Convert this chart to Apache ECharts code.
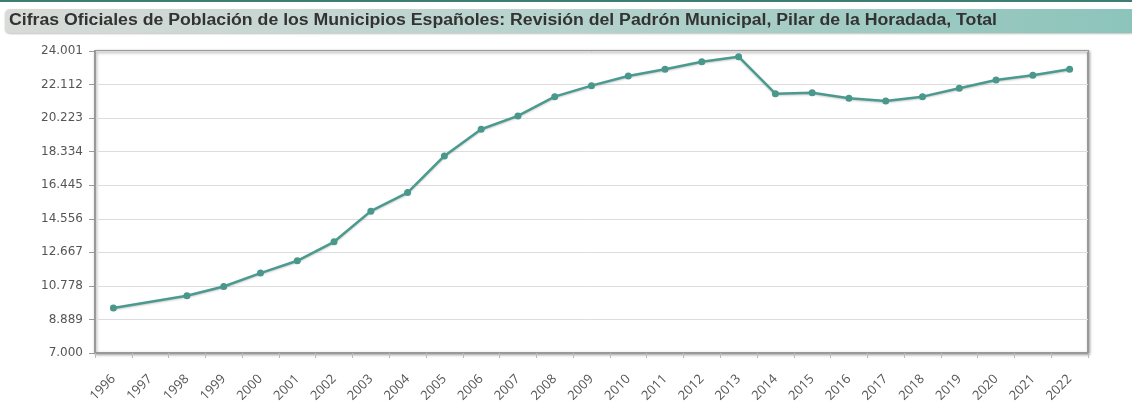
<!DOCTYPE html>
<html>
<head>
<meta charset="utf-8">
<script src="https://cdn.jsdelivr.net/npm/echarts@6/dist/echarts.min.js"></script>
<style>
html,body{margin:0;padding:0;background:#fff;}
#chart{width:1132px;height:408px;}
</style>
</head>
<body>
<div id="chart"></div>
<script>
var titleText = 'Cifras Oficiales de Población de los Municipios Españoles: Revisión del Padrón Municipal, Pilar de la Horadada, Total';
var years = ['1996','1997','1998','1999','2000','2001','2002','2003','2004','2005','2006','2007','2008','2009','2010','2011','2012','2013','2014','2015','2016','2017','2018','2019','2020','2021','2022'];
var population = [9531, null, 10222, 10746, 11499, 12191, 13260, 14986, 16032, 18096, 19598, 20346, 21431, 22050, 22595, 22972, 23400, 23681, 21600, 21656, 21341, 21189, 21431, 21904, 22370, 22635, 22972];
var yMin = 7000;
var yMax = 24001;
var yInterval = 1889;

function fmt(v){
  return Math.round(v).toString().replace(/\B(?=(\d{3})+(?!\d))/g, '.');
}

var chart = echarts.init(document.getElementById('chart'), null, {renderer:'canvas'});
chart.setOption({
  animation:false,
  backgroundColor:'#fff',
  graphic:[
    {type:'rect', left:0, top:0, shape:{width:1132, height:2}, style:{fill:'#3f7d73'}, z:10},
    {type:'rect', left:5, top:9, shape:{width:1127, height:24, r:[5,0,0,5]},
      style:{
        fill:new echarts.graphic.LinearGradient(0,0,1,0,[
          {offset:0, color:'#d8dbd8'},
          {offset:0.5, color:'#b5d2cc'},
          {offset:1, color:'#8cc4bb'}
        ]),
        shadowColor:'rgba(0,0,0,0.25)', shadowBlur:2, shadowOffsetY:1
      }, z:10},
    {type:'text', x:9, y:21, scaleX:1.105, style:{text:titleText, fill:'#333', verticalAlign:'middle', font:'bold 16px "Liberation Sans", Arial, sans-serif'}, z:11}
  ],
  grid:{left:95, right:44, top:51, bottom:55, show:true, backgroundColor:'#fff', borderColor:'#999', borderWidth:2,
    shadowColor:'rgba(0,0,0,0.3)', shadowBlur:3, shadowOffsetX:1, shadowOffsetY:1},
  xAxis:{
    type:'category', data:years, boundaryGap:true,
    axisLine:{show:true, lineStyle:{color:'#999', width:2}},
    axisTick:{show:true, length:5, lineStyle:{color:'#bbb'}},
    axisLabel:{rotate:45, color:'#555', fontSize:13, fontFamily:'"Open Sans", sans-serif', margin:24, interval:0},
    splitLine:{show:false}
  },
  yAxis:{
    type:'value', min:yMin, max:yMax, interval:yInterval,
    axisLine:{show:true, lineStyle:{color:'#999', width:2}},
    axisTick:{show:true, length:6, lineStyle:{color:'#999'}},
    axisLabel:{color:'#555', fontSize:12, fontFamily:'"DejaVu Sans", Verdana, sans-serif', margin:12, formatter:fmt},
    splitLine:{show:true, lineStyle:{color:'#ddd', width:1}}
  },
  series:[{
    type:'line', data:population, connectNulls:true,
    symbol:'circle', symbolSize:7,
    lineStyle:{color:'#4b9a8f', width:2.5, shadowColor:'rgba(0,0,0,0.2)', shadowBlur:2, shadowOffsetY:1},
    itemStyle:{color:'#4a978c'}
  }]
});
</script>
</body>
</html>
